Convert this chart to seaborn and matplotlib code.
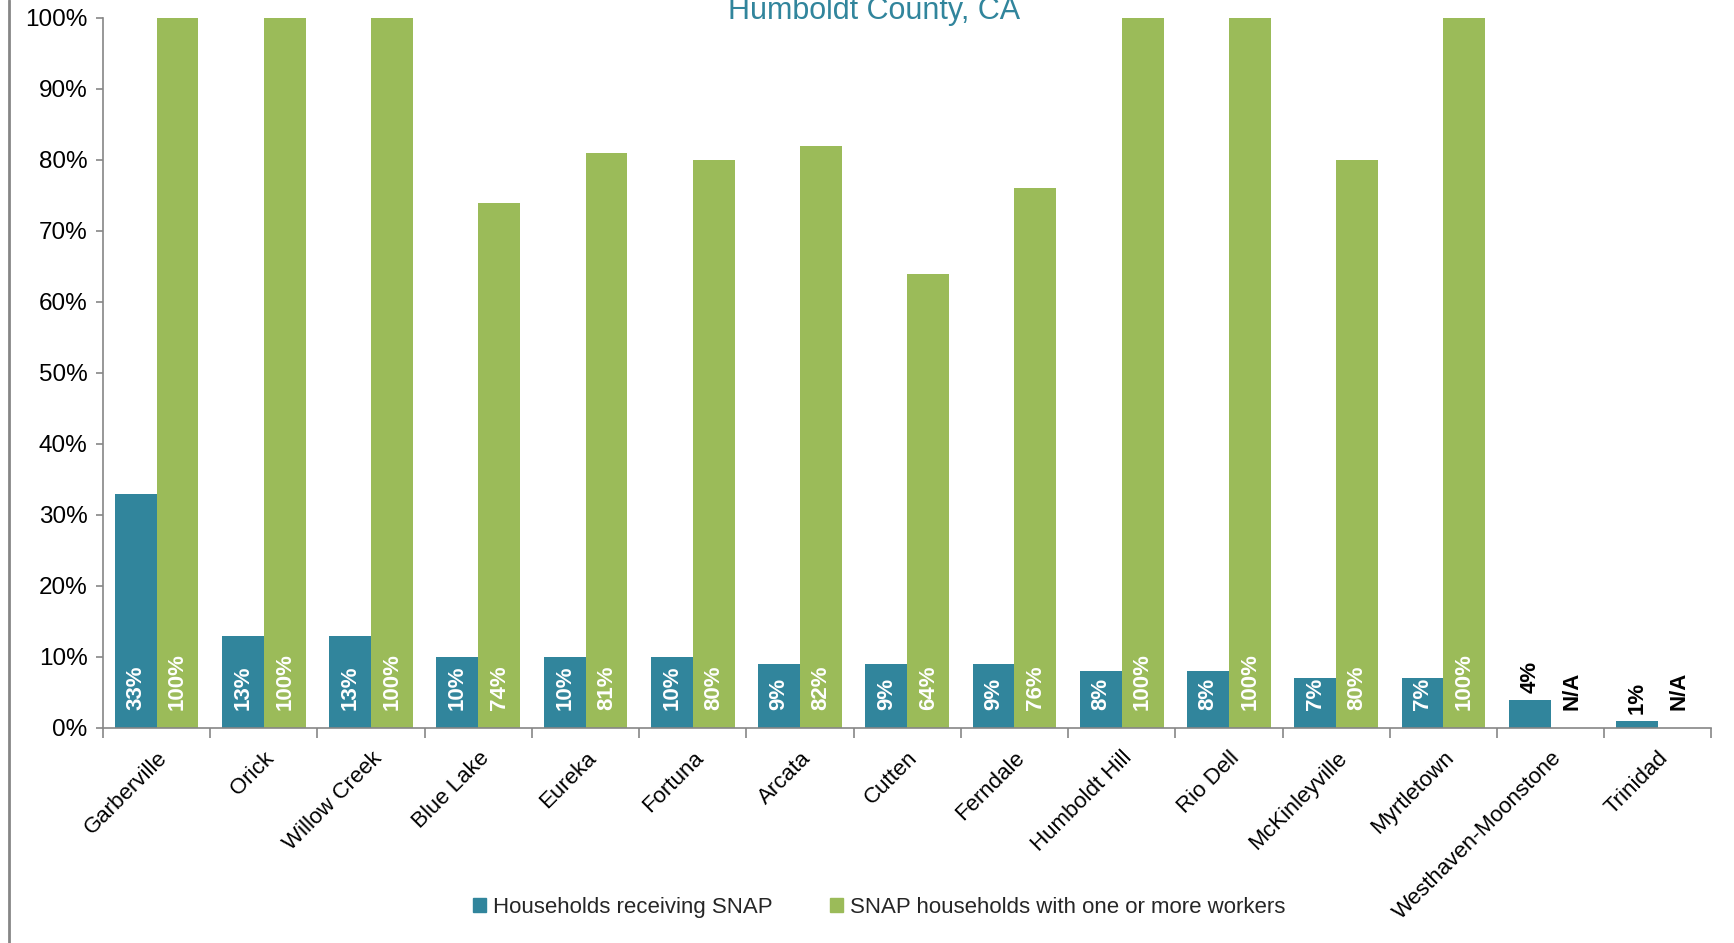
import numpy as np
import pandas as pd
import matplotlib
matplotlib.use('Agg')
import matplotlib.pyplot as plt
import seaborn as sns
from matplotlib.ticker import PercentFormatter, FixedLocator
from matplotlib.lines import Line2D

places = ['Garberville', 'Orick', 'Willow Creek', 'Blue Lake', 'Eureka', 'Fortuna',
          'Arcata', 'Cutten', 'Ferndale', 'Humboldt Hill', 'Rio Dell', 'McKinleyville',
          'Myrtletown', 'Westhaven-Moonstone', 'Trinidad']
snap_share = [33, 13, 13, 10, 10, 10, 9, 9, 9, 8, 8, 7, 7, 4, 1]
workers_share = [100, 100, 100, 74, 81, 80, 82, 64, 76, 100, 100, 80, 100, None, None]
series = ['Households receiving SNAP', 'SNAP households with one or more workers']

TEAL = '#31859C'
GREEN = '#9BBB59'
GRAY = '#868686'

sns.set_theme(style='white')
plt.rcParams['font.family'] = ['Liberation Sans', 'DejaVu Sans']

df = pd.DataFrame({
    'place': places * 2,
    'series': [series[0]] * len(places) + [series[1]] * len(places),
    'value': [v / 100 for v in snap_share] + [(v or 0) / 100 for v in workers_share],
})

fig = plt.figure(figsize=(17.34, 9.43), dpi=100)
ax = fig.add_axes([0.0594, 0.228, 0.9276, 0.753])

sns.barplot(data=df, x='place', y='value', hue='series', hue_order=series,
            palette=[TEAL, GREEN], saturation=1, width=0.78, linewidth=0, ax=ax)

# value labels
labels = [snap_share, workers_share]
for cont, vals in zip(ax.containers, labels):
    for bar, v in zip(cont, vals):
        xc = bar.get_x() + bar.get_width() / 2
        if v is None:
            ax.annotate('N/A', (xc, 0), xytext=(0, 13), textcoords='offset points',
                        rotation=90, ha='center', va='bottom', color='black',
                        fontsize=16, fontweight='bold')
        elif v >= 5:
            ax.annotate(f'{v}%', (xc, 0), xytext=(0, 13), textcoords='offset points',
                        rotation=90, ha='center', va='bottom', color='white',
                        fontsize=16, fontweight='bold')
        else:
            ax.annotate(f'{v}%', (xc, bar.get_height()), xytext=(0, 5),
                        textcoords='offset points', rotation=90, ha='center',
                        va='bottom', color='black', fontsize=16, fontweight='bold')

ax.set_ylim(0, 1)
ax.set_xlim(-0.5, len(places) - 0.5)
ax.yaxis.set_major_locator(FixedLocator(np.arange(0, 1.01, 0.1)))
ax.yaxis.set_major_formatter(PercentFormatter(1.0, decimals=0))
ax.set_xlabel('')
ax.set_ylabel('')

ax.set_xticks(np.arange(len(places)))
ax.set_xticklabels(places, rotation=45, ha='right', rotation_mode='anchor', fontsize=16)
ax.set_xticks(np.arange(len(places) + 1) - 0.5, minor=True)
ax.tick_params(axis='x', which='major', length=0, pad=14)
ax.tick_params(axis='x', which='minor', length=7, width=1.2, color=GRAY, direction='out')
ax.tick_params(axis='y', length=5, width=1.2, color=GRAY, direction='out', labelsize=17.5, pad=6)
ax.tick_params(axis='both', labelcolor='black')
ax.xaxis.set_ticks_position('bottom')
ax.yaxis.set_ticks_position('left')

for side in ['top', 'right']:
    ax.spines[side].set_visible(False)
for side in ['left', 'bottom']:
    ax.spines[side].set_color(GRAY)
    ax.spines[side].set_linewidth(1.2)

ax.legend_.remove()
handles = [plt.Rectangle((0, 0), 1, 1, color=c) for c in [TEAL, GREEN]]
fig.legend(handles, series, loc='center', bbox_to_anchor=(0.507, 0.038), ncol=2,
           frameon=False, fontsize=16, handlelength=0.6, handleheight=0.6,
           handletextpad=0.3, columnspacing=2.6)

# title sits partly above the top edge, as in the source image
fig.text(0.504, 0.980, 'Humboldt County, CA', ha='center', va='baseline',
         color=TEAL, fontsize=22)

fig.add_artist(Line2D([0.0052, 0.0052], [0, 1], transform=fig.transFigure,
                      color=GRAY, linewidth=2))

fig.savefig('out.png', dpi=100)
